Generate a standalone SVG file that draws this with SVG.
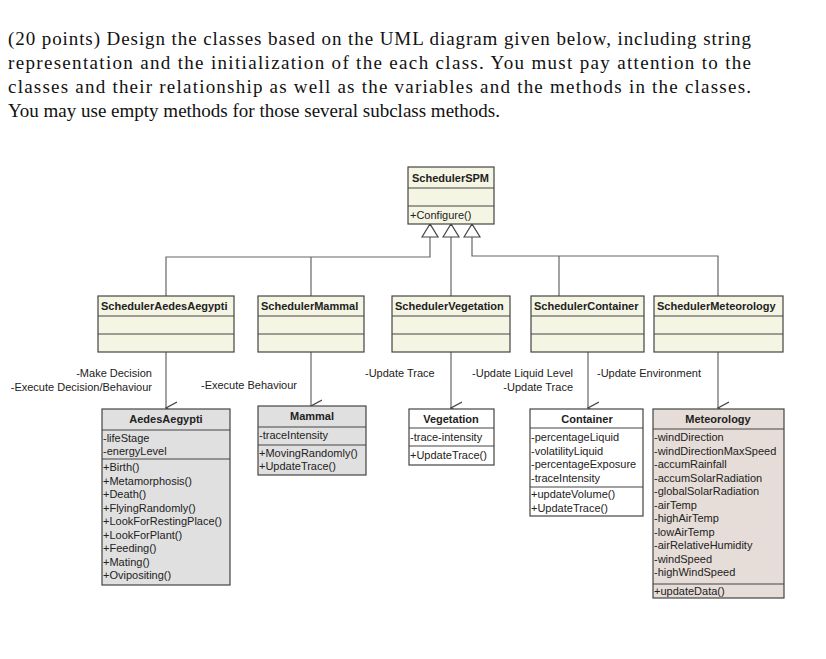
<svg xmlns="http://www.w3.org/2000/svg" width="826" height="659" viewBox="0 0 826 659">
<style>
.q{font-family:"Liberation Serif",serif;font-size:19px;fill:#111}
.t{font-family:"Liberation Sans",Arial,sans-serif;font-size:11px;fill:#222}
.h{font-family:"Liberation Sans",Arial,sans-serif;font-size:11px;font-weight:bold;fill:#222}
.s{fill:#f5f5e4;stroke:#444;stroke-width:1.2}
.g{fill:#e0e0e0;stroke:#444;stroke-width:1.2}
.w{fill:#fff;stroke:#444;stroke-width:1.2}
.m{fill:#e6ddd8;stroke:#444;stroke-width:1.2}
.d{stroke:#444;stroke-width:1.2}
.c{fill:none;stroke:#666;stroke-width:1.2}
</style>
<defs>
<marker id="v" markerWidth="14" markerHeight="12" refX="6" refY="11" orient="auto-start-reverse" markerUnits="userSpaceOnUse" viewBox="0 0 12 12"><path d="M0,0 L6,11 L12,0" fill="none" stroke="#444" stroke-width="1.2"/></marker>
</defs>
<rect width="826" height="659" fill="#fff"/>
<text class="q" x="8" y="45" textLength="743">(20 points) Design the classes based on the UML diagram given below, including string</text>
<text class="q" x="8" y="69" textLength="743">representation and the initialization of the each class. You must pay attention to the</text>
<text class="q" x="8" y="93" textLength="743">classes and their relationship as well as the variables and the methods in the classes.</text>
<text class="q" x="8" y="117">You may use empty methods for those several subclass methods.</text>

<g id="connectors">
<path class="c" d="M430,237 V257 H166 V296 M311,257 V296"/>
<path class="c" d="M451,237 V296"/>
<path class="c" d="M472,237 V256 H718 V296 M559,256 V296"/>
<path d="M422,237 L430,224 L438,237 Z M443,237 L451,224 L459,237 Z M464,237 L472,224 L480,237 Z" fill="#fff" stroke="#444" stroke-width="1.2"/>
<line class="c" x1="166" y1="352" x2="166" y2="408" marker-end="url(#v)"/>
<line class="c" x1="311" y1="352" x2="311" y2="406" marker-end="url(#v)"/>
<line class="c" x1="451" y1="352" x2="451" y2="408" marker-end="url(#v)"/>
<line class="c" x1="588" y1="352" x2="588" y2="408" marker-end="url(#v)"/>
<line class="c" x1="718" y1="352" x2="718" y2="408" marker-end="url(#v)"/>
<text class="t" x="152" y="377" text-anchor="end">-Make Decision</text>
<text class="t" x="152" y="391" text-anchor="end">-Execute Decision/Behaviour</text>
<text class="t" x="297" y="389" text-anchor="end">-Execute Behaviour</text>
<text class="t" x="365" y="377">-Update Trace</text>
<text class="t" x="573" y="377" text-anchor="end">-Update Liquid Level</text>
<text class="t" x="573" y="391" text-anchor="end">-Update Trace</text>
<text class="t" x="597" y="377">-Update Environment</text>
</g>

<g id="SchedulerSPM">
<rect class="s" x="408" y="167" width="86" height="57"/>
<line class="d" x1="408" y1="188" x2="494" y2="188"/><line class="d" x1="408" y1="206" x2="494" y2="206"/>
<text class="h" x="412" y="182">SchedulerSPM</text>
<text class="t" x="410" y="219">+Configure()</text>
</g>

<g id="SchedulerAedesAegypti">
<rect class="s" x="98" y="296" width="136" height="56"/>
<line class="d" x1="98" y1="316" x2="234" y2="316"/><line class="d" x1="98" y1="334" x2="234" y2="334"/>
<text class="h" x="101" y="310">SchedulerAedesAegypti</text>
</g>
<g id="SchedulerMammal">
<rect class="s" x="258" y="296" width="106" height="56"/>
<line class="d" x1="258" y1="316" x2="364" y2="316"/><line class="d" x1="258" y1="334" x2="364" y2="334"/>
<text class="h" x="261" y="310">SchedulerMammal</text>
</g>
<g id="SchedulerVegetation">
<rect class="s" x="392" y="296" width="118" height="56"/>
<line class="d" x1="392" y1="316" x2="510" y2="316"/><line class="d" x1="392" y1="334" x2="510" y2="334"/>
<text class="h" x="395" y="310">SchedulerVegetation</text>
</g>
<g id="SchedulerContainer">
<rect class="s" x="531" y="296" width="113" height="56"/>
<line class="d" x1="531" y1="316" x2="644" y2="316"/><line class="d" x1="531" y1="334" x2="644" y2="334"/>
<text class="h" x="534" y="310">SchedulerContainer</text>
</g>
<g id="SchedulerMeteorology">
<rect class="s" x="654" y="296" width="129" height="56"/>
<line class="d" x1="654" y1="316" x2="783" y2="316"/><line class="d" x1="654" y1="334" x2="783" y2="334"/>
<text class="h" x="657" y="310">SchedulerMeteorology</text>
</g>

<g id="AedesAegypti">
<rect class="g" x="102" y="409" width="128" height="176"/>
<line class="d" x1="102" y1="430" x2="230" y2="430"/><line class="d" x1="102" y1="459" x2="230" y2="459"/>
<text class="h" x="166" y="423" text-anchor="middle">AedesAegypti</text>
<text class="t" x="103"><tspan x="103" y="442">-lifeStage</tspan><tspan x="103" y="455">-energyLevel</tspan>
<tspan x="103" y="471">+Birth()</tspan><tspan x="103" y="484.5">+Metamorphosis()</tspan><tspan x="103" y="498">+Death()</tspan><tspan x="103" y="511.5">+FlyingRandomly()</tspan><tspan x="103" y="525">+LookForRestingPlace()</tspan><tspan x="103" y="538.5">+LookForPlant()</tspan><tspan x="103" y="552">+Feeding()</tspan><tspan x="103" y="565.5">+Mating()</tspan><tspan x="103" y="579">+Ovipositing()</tspan></text>
</g>
<g id="Mammal">
<rect class="g" x="258" y="406" width="108" height="69"/>
<line class="d" x1="258" y1="427" x2="366" y2="427"/><line class="d" x1="258" y1="445" x2="366" y2="445"/>
<text class="h" x="312" y="420" text-anchor="middle">Mammal</text>
<text class="t"><tspan x="259" y="439">-traceIntensity</tspan><tspan x="259" y="457">+MovingRandomly()</tspan><tspan x="259" y="470">+UpdateTrace()</tspan></text>
</g>
<g id="Vegetation">
<rect class="w" x="409" y="409" width="85" height="56"/>
<line class="d" x1="409" y1="428" x2="494" y2="428"/><line class="d" x1="409" y1="446" x2="494" y2="446"/>
<text class="h" x="451" y="423" text-anchor="middle">Vegetation</text>
<text class="t"><tspan x="410" y="441">-trace-intensity</tspan><tspan x="410" y="459">+UpdateTrace()</tspan></text>
</g>
<g id="Container">
<rect class="w" x="530" y="409" width="113" height="107"/>
<line class="d" x1="530" y1="428" x2="643" y2="428"/><line class="d" x1="530" y1="487" x2="643" y2="487"/>
<text class="h" x="587" y="423" text-anchor="middle">Container</text>
<text class="t"><tspan x="531" y="441">-percentageLiquid</tspan><tspan x="531" y="454.5">-volatilityLiquid</tspan><tspan x="531" y="468">-percentageExposure</tspan><tspan x="531" y="481.5">-traceIntensity</tspan><tspan x="531" y="498">+updateVolume()</tspan><tspan x="531" y="511.5">+UpdateTrace()</tspan></text>
</g>
<g id="Meteorology">
<rect class="m" x="653" y="409" width="131" height="189"/>
<line class="d" x1="653" y1="429" x2="784" y2="429"/><line class="d" x1="653" y1="584" x2="784" y2="584"/>
<text class="h" x="718" y="423" text-anchor="middle">Meteorology</text>
<text class="t"><tspan x="654" y="441">-windDirection</tspan><tspan x="654" y="454.5">-windDirectionMaxSpeed</tspan><tspan x="654" y="468">-accumRainfall</tspan><tspan x="654" y="481.5">-accumSolarRadiation</tspan><tspan x="654" y="495">-globalSolarRadiation</tspan><tspan x="654" y="508.5">-airTemp</tspan><tspan x="654" y="522">-highAirTemp</tspan><tspan x="654" y="535.5">-lowAirTemp</tspan><tspan x="654" y="549">-airRelativeHumidity</tspan><tspan x="654" y="562.5">-windSpeed</tspan><tspan x="654" y="576">-highWindSpeed</tspan><tspan x="654" y="595">+updateData()</tspan></text>
</g>
</svg>
